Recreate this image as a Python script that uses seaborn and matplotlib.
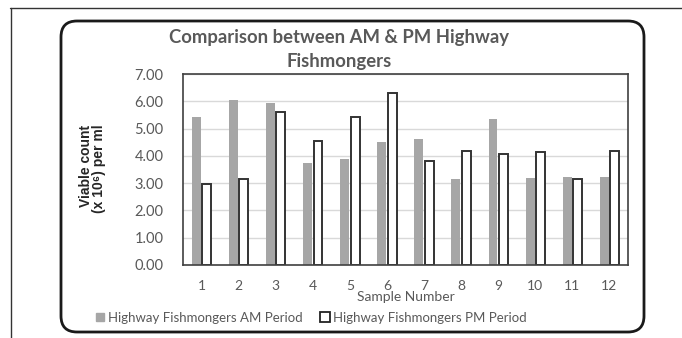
import matplotlib
matplotlib.use("Agg")
import matplotlib.pyplot as plt
from matplotlib.patches import FancyBboxPatch
from matplotlib.lines import Line2D
from matplotlib.transforms import IdentityTransform
import seaborn as sns
import pandas as pd

samples = [str(i) for i in range(1, 13)]
am_counts = [5.41, 6.04, 5.92, 3.72, 3.89, 4.52, 4.62, 3.14, 5.34, 3.18, 3.22, 3.22]
pm_counts = [2.97, 3.16, 5.59, 4.55, 5.41, 6.31, 3.81, 4.16, 4.08, 4.13, 3.16, 4.16]
series_names = ["Highway Fishmongers AM Period", "Highway Fishmongers PM Period"]
y_ticks = [0, 1, 2, 3, 4, 5, 6, 7]

df = pd.DataFrame({
    "Sample": samples * 2,
    "Count": am_counts + pm_counts,
    "Series": [series_names[0]] * 12 + [series_names[1]] * 12,
})

sns.set_theme(style="white")
plt.rcParams["font.family"] = ["Lato", "DejaVu Sans"]

TXT = "#595959"
W, H = 682, 338
fig = plt.figure(figsize=(W / 100, H / 100), dpi=100)
ax = fig.add_axes([183 / W, 1 - 265 / H, (628 - 183) / W, (265 - 74) / H])

sns.barplot(data=df, x="Sample", y="Count", hue="Series", order=samples,
            hue_order=series_names, palette=["#a6a6a6", "#ffffff"],
            width=0.56, gap=0.14, ax=ax, legend=False, saturation=1)

# white bars get a dark outline, grey bars none
for patch in ax.patches:
    fc = patch.get_facecolor()
    if fc[0] > 0.9:
        patch.set_edgecolor("#333333")
        patch.set_linewidth(1.4)
    else:
        patch.set_edgecolor("none")

ax.set_ylim(0, 7)
ax.set_yticks(y_ticks)
ax.set_yticklabels([f"{v:.2f}" for v in y_ticks])
ax.yaxis.grid(True, color="#d9d9d9", linewidth=1)
ax.set_axisbelow(True)
for s in ax.spines.values():
    s.set_visible(True)
    s.set_color("#404040")
    s.set_linewidth(1.2)
ax.tick_params(axis="y", length=0, labelsize=10.5, labelcolor=TXT, pad=14)
ax.tick_params(axis="x", length=0, labelsize=10, labelcolor=TXT, pad=11)
ax.set_xlabel("Sample Number", fontsize=10, color=TXT, labelpad=-1)
ax.set_ylabel("")

fig.text(339 / W, 1 - 37 / H, "Comparison between AM & PM Highway", ha="center", va="center",
         fontsize=13.3, fontweight="bold", color=TXT)
fig.text(339 / W, 1 - 62 / H, "Fishmongers", ha="center", va="center",
         fontsize=13.3, fontweight="bold", color=TXT)

ylab_font = ["Liberation Sans Narrow", "Liberation Sans", "DejaVu Sans"]
fig.text(85.5 / W, 1 - 166 / H, "Viable count", rotation=90, ha="center", va="center",
         fontsize=10, fontweight="bold", color="#262626", family=ylab_font)
fig.text(99.5 / W, 1 - 169 / H, "(x 10\u2076) per ml", rotation=90, ha="center", va="center",
         fontsize=10, fontweight="bold", color="#262626", family=ylab_font)

handles = [
    Line2D([], [], marker="s", linestyle="none", markersize=6,
           markerfacecolor="#a6a6a6", markeredgecolor="#a6a6a6"),
    Line2D([], [], marker="s", linestyle="none", markersize=7,
           markerfacecolor="white", markeredgecolor="#222222", markeredgewidth=1.3),
]
fig.legend(handles, series_names, loc="center", bbox_to_anchor=(310 / W, 1 - 318 / H),
           ncol=2, frameon=False, fontsize=9.5, labelcolor=TXT,
           handletextpad=0.1, columnspacing=1.2, handlelength=1.0)

# rounded chart frame (pixel coordinates) and page rules
fig.patches.append(FancyBboxPatch((61, H - 332), 644 - 61, 332 - 21,
                                  boxstyle="round,pad=0,rounding_size=16",
                                  transform=IdentityTransform(), fill=False,
                                  edgecolor="#1a1a1a", linewidth=2))
fig.add_artist(Line2D([10 / W, 1], [1 - 8 / H, 1 - 8 / H], transform=fig.transFigure,
                      color="#333333", linewidth=1))
fig.add_artist(Line2D([11 / W, 11 / W], [0, 1 - 8 / H], transform=fig.transFigure,
                      color="#333333", linewidth=1))

fig.savefig("out.png", dpi=100, facecolor="white")
